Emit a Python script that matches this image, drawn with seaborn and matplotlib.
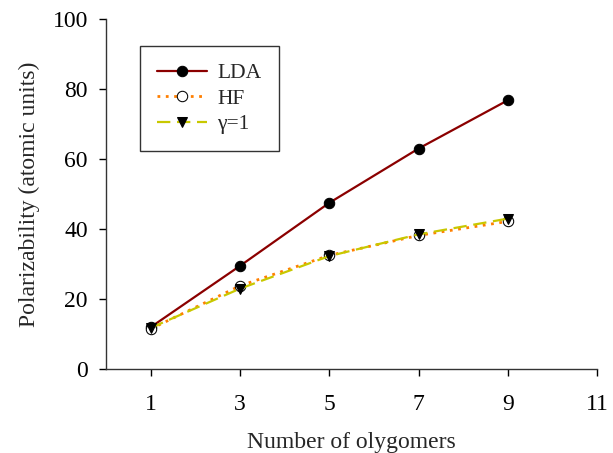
import numpy as np
import pandas as pd
import matplotlib
matplotlib.use('Agg')
import matplotlib.pyplot as plt
import seaborn as sns

# data
n_oly = [1, 3, 5, 7, 9]
lda = [12.0, 29.5, 47.5, 63.0, 76.8]
hf = [11.5, 23.8, 32.5, 38.2, 42.2]
gamma1 = [11.8, 23.0, 32.3, 38.5, 43.0]

sns.set_theme(style='ticks')
plt.rcParams['font.family'] = ['Liberation Serif', 'DejaVu Serif']

fig = plt.figure(figsize=(6.13, 4.53), dpi=100)
ax = fig.add_axes([0.173, 0.185, 0.801, 0.773])

df = pd.DataFrame({'n': n_oly, 'LDA': lda, 'HF': hf, 'g': gamma1})

sns.lineplot(data=df, x='n', y='LDA', ax=ax, color='#8b0000', lw=1.6,
             marker='o', markersize=7.5, markerfacecolor='black',
             markeredgecolor='black', label='LDA')
sns.lineplot(data=df, x='n', y='HF', ax=ax, color='#ff7f00', lw=2,
             linestyle=(0, (1, 2)), marker='o', markersize=7.5,
             markerfacecolor='white', markeredgecolor='black', label='HF')
sns.lineplot(data=df, x='n', y='g', ax=ax, color='#c8c800', lw=1.6,
             linestyle=(0, (6, 3)), marker='v', markersize=7.5,
             markerfacecolor='black', markeredgecolor='black', label='γ=1')

ax.set_xlim(0, 11)
ax.set_ylim(0, 100)
ax.set_xticks([1, 3, 5, 7, 9, 11])
ax.set_yticks([0, 20, 40, 60, 80, 100])
ax.tick_params(labelsize=17, length=5, width=1, colors='black', pad=13)
ax.tick_params(axis='y', pad=8)
for s in ['left', 'bottom']:
    ax.spines[s].set_color('#333333')
    ax.spines[s].set_linewidth(1)
sns.despine(ax=ax)
ax.set_xlabel('Number of olygomers', fontsize=17, labelpad=12)
ax.set_ylabel('Polarizability (atomic units)', fontsize=17, labelpad=9)

leg = ax.legend(loc='upper left', bbox_to_anchor=(0.069, 0.923), fontsize=15.5,
                frameon=True, fancybox=False, handlelength=2.3,
                handletextpad=0.5, borderpad=0.8, labelspacing=0.25,
                borderaxespad=0)
leg.get_frame().set_edgecolor('black')
leg.get_frame().set_linewidth(1)

plt.savefig('out.png', dpi=100)
